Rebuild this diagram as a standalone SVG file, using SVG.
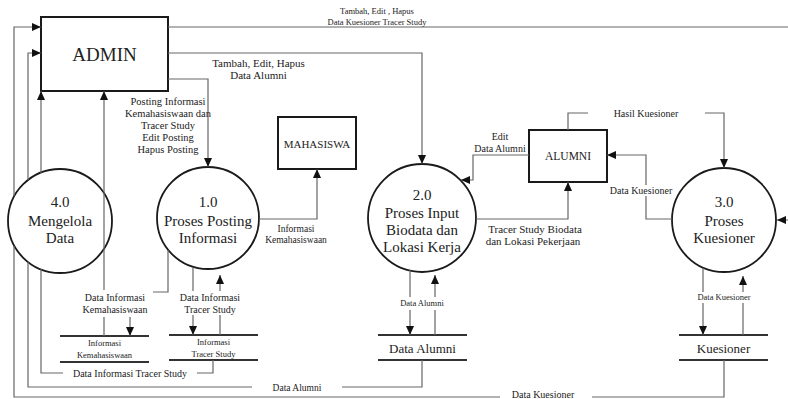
<svg xmlns="http://www.w3.org/2000/svg" width="788" height="399" viewBox="0 0 788 399">
<style>
.bg{fill:#fff}
.box{fill:#fff;stroke:#1a1a1a;stroke-width:2}
.proc{fill:#fff;stroke:#1a1a1a;stroke-width:1.8}
.store{stroke:#333;stroke-width:2;fill:none}
.c{fill:none;stroke:#666;stroke-width:1.2}
.a{marker-end:url(#arr)}
text{fill:#222;text-anchor:middle}
.big{font-size:19px}
.p{font-size:15px}
.ent{font-size:11px}
.st{font-size:13px}
.sts{font-size:8.5px}
.l11{font-size:11px}
.l10{font-size:10px}
.l9{font-size:9px}
</style>
<defs>
<marker id="arr" viewBox="0 0 9 8" refX="9" refY="4" markerWidth="9" markerHeight="8" markerUnits="userSpaceOnUse" orient="auto">
<path d="M0,0 L9,4 L0,8 z" fill="#111"/>
</marker>
</defs>
<rect class="bg" x="0" y="0" width="788" height="399"/>
<g font-family="'Liberation Serif', Tinos, 'Times New Roman', Times, 'DejaVu Serif', serif">
<g id="nodes">
<g id="admin"><rect class="box" x="41" y="17" width="127" height="74"/><text class="big" x="104.5" y="61">ADMIN</text></g>
<g id="mahasiswa"><rect class="box" x="278" y="117" width="78" height="52"/><text class="ent" x="317" y="148">MAHASISWA</text></g>
<g id="alumni"><rect class="box" x="529" y="130" width="78" height="52"/><text class="ent" x="568" y="160" style="font-size:11.5px">ALUMNI</text></g>
<g id="p4"><circle class="proc" cx="60" cy="221" r="52"/><text class="p" x="60" y="207">4.0</text><text class="p" x="60" y="226">Mengelola</text><text class="p" x="60" y="243">Data</text></g>
<g id="p1"><circle class="proc" cx="208" cy="218" r="51"/><text class="p" x="208" y="207">1.0</text><text class="p" x="208" y="226">Proses Posting</text><text class="p" x="208" y="243">Informasi</text></g>
<g id="p2"><circle class="proc" cx="422" cy="218" r="54"/><text class="p" x="422" y="200">2.0</text><text class="p" x="422" y="218">Proses Input</text><text class="p" x="422" y="235">Biodata dan</text><text class="p" x="422" y="252">Lokasi Kerja</text></g>
<g id="p3"><circle class="proc" cx="724" cy="220" r="52"/><text class="p" x="724" y="207">3.0</text><text class="p" x="724" y="226">Proses</text><text class="p" x="724" y="243">Kuesioner</text></g>
<g id="s-ik"><path class="store" d="M60,336 H149 M60,362 H149"/><text class="sts" x="104.5" y="346">Informasi</text><text class="sts" x="104.5" y="358">Kemahasiswaan</text></g>
<g id="s-its"><path class="store" d="M169,335 H258 M169,360 H258"/><text class="sts" x="213.5" y="345">Informasi</text><text class="sts" x="213.5" y="357">Tracer Study</text></g>
<g id="s-da"><path class="store" d="M378,335 H467 M378,360 H467"/><text class="st" x="422.5" y="352.5">Data Alumni</text></g>
<g id="s-k"><path class="store" d="M679,335 H768 M679,360 H768"/><text class="st" x="723.5" y="352.5">Kuesioner</text></g>
</g>
<g id="connectors">
<path class="c a" d="M168,27 H792 V220 H777"/>
<path class="c a" d="M724,360 V397 H592 M500,397 H14 V246 M14,196 V27 H41"/>
<path class="c a" d="M422,360 V387 H342 M252,387 H28 V262 M28,180 V53 H41"/>
<path class="c a" d="M213,360 V373 H197 M63,373 H41 V269 M41,173 V91"/>
<path class="c a" d="M104,336 V317 M104,290 V91"/>
<path class="c a" d="M168,79 H208 V167"/>
<path class="c a" d="M168,53 H422 V164"/>
<path class="c a" d="M259,219 H317 V169"/>
<path class="c a" d="M168,250 V292 H153 M130,317 V336"/>
<path class="c a" d="M193,267 V291 M193,315 V335"/>
<path class="c a" d="M220,335 V315 M220,291 V275"/>
<path class="c a" d="M476,219 H568 V182"/>
<path class="c a" d="M529,155 H473 V180 H461"/>
<path class="c a" d="M568,130 V113 H588 M705,113 H724 V168"/>
<path class="c a" d="M672,219 H646 V196 M646,185 V155 H607"/>
<path class="c a" d="M410,270 V297 M410,310 V335"/>
<path class="c a" d="M435,335 V310 M435,297 V275"/>
<path class="c a" d="M703,268 V292 M703,303 V335"/>
<path class="c a" d="M743,335 V303 M743,292 V276"/>
</g>
<g id="labels">
<text class="l9" x="377" y="14" style="font-size:8.5px">Tambah, Edit , Hapus</text>
<text class="l9" x="377" y="24.5" style="font-size:8.5px">Data Kuesioner Tracer Study</text>
<text class="l11" x="258.5" y="67">Tambah, Edit, Hapus</text>
<text class="l11" x="258.5" y="79">Data Alumni</text>
<text class="l10" x="168" y="104.5" style="font-size:10.5px">Posting Informasi</text>
<text class="l10" x="168" y="116.5" style="font-size:10.5px">Kemahasiswaan dan</text>
<text class="l10" x="168" y="129" style="font-size:10.5px">Tracer Study</text>
<text class="l10" x="168" y="140.5" style="font-size:10.5px">Edit Posting</text>
<text class="l10" x="168" y="152.5" style="font-size:10.5px">Hapus Posting</text>
<text class="l10" x="296" y="231.5" style="font-size:9.5px">Informasi</text>
<text class="l10" x="296" y="242.5" style="font-size:9.5px">Kemahasiswaan</text>
<text class="l10" x="500" y="140">Edit</text>
<text class="l10" x="500" y="152">Data Alumni</text>
<text class="l10" x="646" y="116.5">Hasil Kuesioner</text>
<text class="l10" x="641" y="193.5">Data Kuesioner</text>
<text class="l11" x="535" y="232.5">Tracer Study Biodata</text>
<text class="l11" x="533" y="244.5">dan Lokasi Pekerjaan</text>
<text class="l10" x="115" y="300.5">Data Informasi</text>
<text class="l10" x="115" y="312.5">Kemahasiswaan</text>
<text class="l10" x="210" y="300.5">Data Informasi</text>
<text class="l10" x="210" y="312.5">Tracer Study</text>
<text class="l9" x="422" y="306" style="font-size:8.5px">Data Alumni</text>
<text class="l9" x="724" y="300" style="font-size:8.5px">Data Kuesioner</text>
<text class="l10" x="130" y="376.5">Data Informasi Tracer Study</text>
<text class="l10" x="297" y="390.5" style="font-size:9.5px">Data Alumni</text>
<text class="l10" x="543" y="397.5">Data Kuesioner</text>
</g>
</g>
</svg>
